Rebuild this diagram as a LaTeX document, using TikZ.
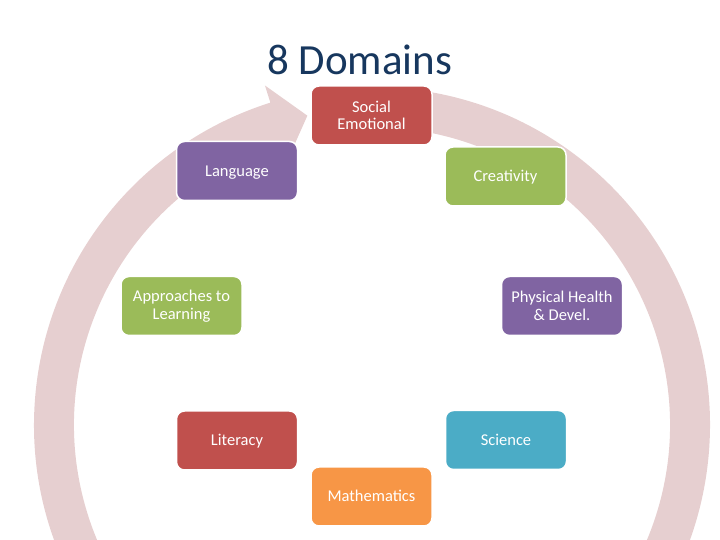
\documentclass[tikz,border=0pt]{standalone}
\usepackage{fontspec}
\setmainfont{Carlito}
\usetikzlibrary{calc}
\definecolor{ringc}{HTML}{E6CFD0}
\definecolor{redc}{HTML}{C0504D}
\definecolor{purc}{HTML}{8064A2}
\definecolor{grnc}{HTML}{9BBB59}
\definecolor{bluc}{HTML}{4BACC6}
\definecolor{orgc}{HTML}{F79646}
\definecolor{titc}{HTML}{17375E}
\begin{document}
\begin{tikzpicture}[x=1pt,y=1pt,
  dombox/.style={draw=white, line width=1.5pt, rounded corners=8pt,
    minimum width=121pt, minimum height=59pt, inner sep=2pt,
    text=white, align=center, font=\fontsize{16.5}{17.6}\selectfont},
  oneline/.style={text height=13pt, text depth=2pt}]
\useasboundingbox (0,0) rectangle (720,540);
\clip (0,0) rectangle (720,540);
\coordinate (c) at (372,115);
% circular arrow
\fill[ringc] ($(c)+(85:338pt)$) arc[start angle=85, end angle=-252.5, radius=338pt]
  -- ($(c)+(107.5:356pt)$) -- ($(c)+(101.8:316pt)$) -- ($(c)+(107.5:279pt)$)
  -- ($(c)+(107.5:298pt)$) arc[start angle=107.5, end angle=445, radius=298pt] -- cycle;
% title
\node[anchor=base, text=titc, font=\fontsize{43}{50}\selectfont, inner sep=0pt] (title) at (359.5,465) {8 Domains};
% boxes
\node[dombox, fill=redc] (soc) at (371.5,424.5) {Social\\Emotional};
\node[dombox, oneline, fill=purc] (lang) at (237,369) {Language};
\node[dombox, oneline, fill=grnc] (cre) at (505.5,363.5) {Creativity};
\node[dombox, fill=grnc] (app) at (181.5,234) {Approaches to\\Learning};
\node[dombox, fill=purc] (phy) at (562,234) {Physical Health\\\& Devel.};
\node[dombox, oneline, fill=redc] (lit) at (237,99.5) {Literacy};
\node[dombox, oneline, fill=bluc] (sci) at (506,100) {Science};
\node[dombox, oneline, fill=orgc] (mat) at (371.5,43.5) {Mathematics};
\end{tikzpicture}
\end{document}
